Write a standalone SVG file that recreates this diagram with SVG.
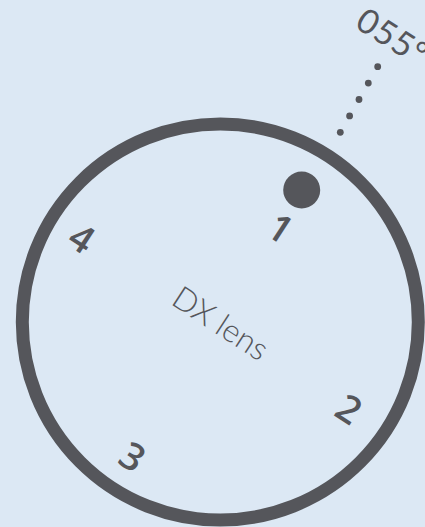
<svg xmlns="http://www.w3.org/2000/svg" width="425" height="527" viewBox="0 0 425 527">
<style>
.ink{fill:#55565b}
.num{font-family:"Open Sans",Lato,sans-serif;font-size:38px;font-weight:600;fill:#55565b;text-anchor:middle}
.lbl{font-family:Lato,"Open Sans",sans-serif;font-size:32px;font-weight:300;fill:#55565b;text-anchor:middle}
.hdg{font-family:Lato,"Open Sans",sans-serif;font-size:34px;font-weight:400;fill:#55565b;letter-spacing:1px}
</style>
<rect width="425" height="527" fill="#dce8f4"/>
<g id="lens">
<circle cx="220.3" cy="322" r="198" fill="none" stroke="#55565b" stroke-width="13"/>
<text class="lbl" transform="translate(220.7,323.3) rotate(33)" dy="0.35em">DX lens</text>
</g>
<g id="marker">
<circle class="ink" cx="301.7" cy="190" r="18.5"/>
</g>
<g id="pos1"><text class="num" transform="translate(280.5,228.3) rotate(33)" dy="0.36em">1</text></g>
<g id="pos2"><text class="num" transform="translate(349,409) rotate(33)" dy="0.36em">2</text></g>
<g id="pos3"><text class="num" transform="translate(132.5,456.7) rotate(33)" dy="0.36em">3</text></g>
<g id="pos4"><text class="num" transform="translate(81.7,238.3) rotate(33)" dy="0.36em">4</text></g>
<g id="connectors">
<circle class="ink" cx="340.3" cy="132.3" r="3.4"/>
<circle class="ink" cx="349.6" cy="115.9" r="3.4"/>
<circle class="ink" cx="359" cy="99.5" r="3.4"/>
<circle class="ink" cx="368.3" cy="83.1" r="3.4"/>
<circle class="ink" cx="377.7" cy="66.7" r="3.4"/>
</g>
<g id="heading">
<text class="hdg" transform="translate(359.9,16.4) rotate(32)" dy="0.36em">055°</text>
</g>
</svg>
